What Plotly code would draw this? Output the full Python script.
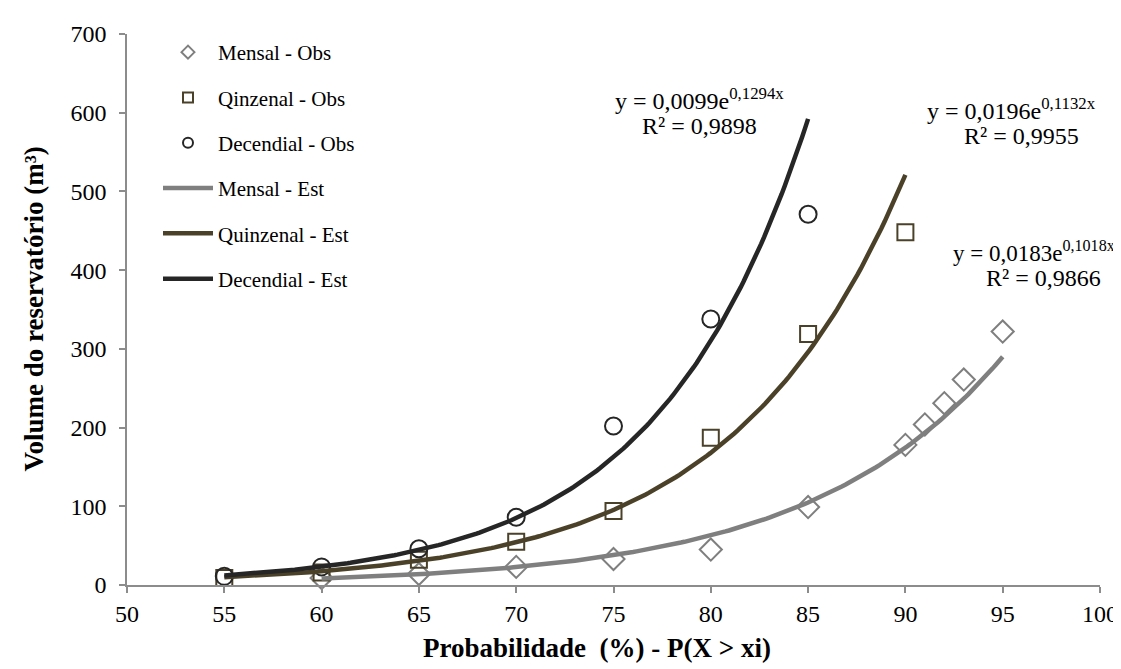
import numpy as np
import plotly.graph_objects as go

# ---- data ----
prob_mensal = [60, 65, 70, 75, 80, 85, 90, 91, 92, 93, 95]
vol_mensal = [9, 14, 23, 33, 45, 99, 178, 204, 231, 261, 322]

prob_quinzenal = [55, 60, 65, 70, 75, 80, 85, 90]
vol_quinzenal = [9, 16, 32, 55, 94, 187, 319, 448]

prob_decendial = [55, 60, 65, 70, 75, 80, 85]
vol_decendial = [11, 23, 46, 86, 202, 338, 471]

# exponential trendline coefficients (y = a * e^(b x)) shown on the chart
trend_names = ["Mensal - Est", "Quinzenal - Est", "Decendial - Est"]
trend_a = [0.0183, 0.0196, 0.0099]
trend_b = [0.1018, 0.1132, 0.1294]
trend_r2 = ["0,9866", "0,9955", "0,9898"]
trend_a_txt = ["0,0183", "0,0196", "0,0099"]
trend_b_txt = ["0,1018", "0,1132", "0,1294"]
trend_xmin = [60, 55, 55]
trend_xmax = [95, 90, 85]

x_ticks = [50, 55, 60, 65, 70, 75, 80, 85, 90, 95, 100]
y_ticks = [0, 100, 200, 300, 400, 500, 600, 700]

C_MEN = "#7f7f7f"
C_QUI = "#4a4128"
C_DEC = "#262626"
AXIS_C = "#8c8c8c"
FONT = "Liberation Serif, Times New Roman, serif"

fig = go.Figure()

obs = [
    ("Mensal - Obs", prob_mensal, vol_mensal, "diamond-open", C_MEN, 17, 10),
    ("Qinzenal - Obs", prob_quinzenal, vol_quinzenal, "square-open", C_QUI, 16, 10),
    ("Decendial - Obs", prob_decendial, vol_decendial, "circle-open", C_DEC, 17, 10),
]
for i, (name, xs, ys, sym, col, sz, lsz) in enumerate(obs):
    fig.add_trace(go.Scatter(
        x=xs, y=ys, mode="markers", name=name, showlegend=False,
        marker=dict(symbol=sym, size=sz, color=col, line=dict(color=col, width=2)),
        cliponaxis=False,
    ))
    # legend entry with the smaller legend symbol
    fig.add_trace(go.Scatter(
        x=[None], y=[None], mode="markers", name=name, legendgroup=f"g{i}",
        marker=dict(symbol=sym, size=lsz, color=col, line=dict(color=col, width=2)),
    ))

cols = [C_MEN, C_QUI, C_DEC]
for i in range(3):
    xs = np.linspace(trend_xmin[i], trend_xmax[i], 200)
    ys = trend_a[i] * np.exp(trend_b[i] * xs)
    fig.add_trace(go.Scatter(
        x=xs, y=ys, mode="lines", name=trend_names[i], legendgroup=f"g{i+3}",
        line=dict(color=cols[i], width=4.5), cliponaxis=False,
    ))

# plot area in pixels
L, R, T, B = 119, 1092, 26, 577
W, H = 1121, 669
x0, x1 = 50, 100
y0, y1 = 0, 700


def dx(px):
    return x0 + (px - L) / (R - L) * (x1 - x0)


def dy(py):
    return y0 + (B - py) / (B - T) * (y1 - y0)


# equation label positions (pixel centres of each line)
eq_pos = [  # (cx1, cy1, cx2, cy2)
    (1026, 243, 1035, 270),
    (1003, 101, 1013, 128),
    (691, 91, 691, 118),
]
for i in range(3):
    cx1, cy1, cx2, cy2 = eq_pos[i]
    fig.add_annotation(x=dx(cx1), y=dy(cy1), xref="x", yref="y", showarrow=False,
                       text=f"y = {trend_a_txt[i]}e<sup>{trend_b_txt[i]}x</sup>",
                       font=dict(family=FONT, size=24 if i else 23, color="#000"),
                       xanchor="center", yanchor="middle")
    fig.add_annotation(x=dx(cx2), y=dy(cy2), xref="x", yref="y", showarrow=False,
                       text=f"R² = {trend_r2[i]}",
                       font=dict(family=FONT, size=24, color="#000"),
                       xanchor="center", yanchor="middle")

# axis titles
fig.add_annotation(x=(25 - L) / (R - L), y=0.5, xref="paper", yref="paper",
                   showarrow=False, textangle=-90,
                   text="<b>Volume do reservatório (m³)</b>",
                   font=dict(family=FONT, size=27, color="#000"),
                   xanchor="center", yanchor="middle")
fig.add_annotation(x=(589 - L) / (R - L), y=(B - 640) / (B - T), xref="paper", yref="paper",
                   showarrow=False,
                   text="<b>Probabilidade  (%) - P(X > xi)</b>",
                   font=dict(family=FONT, size=27, color="#000"),
                   xanchor="center", yanchor="middle")

axis_common = dict(
    showline=True, linecolor=AXIS_C, linewidth=1.5,
    ticks="outside", ticklen=6, tickcolor=AXIS_C, tickwidth=1.5,
    showgrid=False, zeroline=False,
    tickfont=dict(family=FONT, size=24, color="#000"),
)

fig.update_layout(
    width=W, height=H,
    margin=dict(l=L, r=W - R, t=T, b=H - B),
    paper_bgcolor="white", plot_bgcolor="white",
    xaxis=dict(range=[x0, x1], tickvals=x_ticks, ticklabelstandoff=0, **axis_common),
    yaxis=dict(range=[y0, y1], tickvals=y_ticks, ticklabelstandoff=8, **axis_common),
    showlegend=True,
    legend=dict(
        x=(150 - L) / (R - L), y=(B - 24) / (B - T), xanchor="left", yanchor="top",
        font=dict(family=FONT, size=21, color="#000"),
        tracegroupgap=15, bgcolor="rgba(0,0,0,0)", itemwidth=50,
    ),
)

fig.write_html("out.html")
